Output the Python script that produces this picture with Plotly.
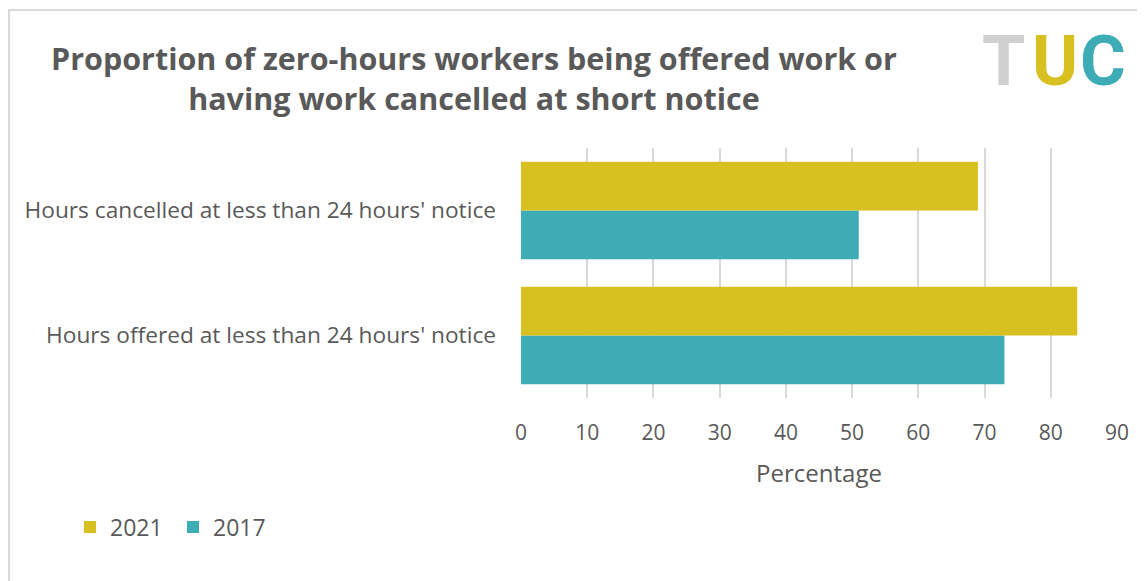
import plotly.graph_objects as go

categories = ["Hours offered at less than 24 hours' notice",
              "Hours cancelled at less than 24 hours' notice"]
series_2017 = [73, 51]
series_2021 = [84, 69]
tick_vals = [0, 10, 20, 30, 40, 50, 60, 70, 80, 90]

OFF = 8  # page body margin
W, H = 1145 - OFF, 581 - OFF
L, R, T, B = 521 - OFF, 28, 148 - OFF, 183
pw = W - L - R
ph = H - T - B

def px(x):  # page pixel -> paper coord
    return (x - OFF - L) / pw

def py(y):
    return (H - B - (y - OFF)) / ph

GOLD = "#d8c020"
TEAL = "#3eacb5"
TXT = "#595959"
FONT = "Open Sans"

fig = go.Figure()
fig.add_trace(go.Bar(y=categories, x=series_2017, name="2017", orientation="h",
                     marker=dict(color=TEAL, line=dict(width=0))))
fig.add_trace(go.Bar(y=categories, x=series_2021, name="2021", orientation="h",
                     marker=dict(color=GOLD, line=dict(width=0))))

fig.update_layout(
    width=W, height=H,
    margin=dict(l=L, r=R, t=T, b=B),
    paper_bgcolor="white", plot_bgcolor="white",
    barmode="group", bargap=0.22, bargroupgap=0,
    font=dict(family=FONT, color=TXT),
    showlegend=True,
    legend=dict(orientation="h", x=px(70), y=py(527), xanchor="left", yanchor="middle",
                traceorder="reversed", font=dict(size=23, color=TXT, family=FONT),
                itemwidth=30, entrywidth=58, bgcolor="rgba(0,0,0,0)"),
    xaxis=dict(range=[0, 90], tickvals=tick_vals, showgrid=True, gridcolor="#d9d9d9",
               gridwidth=2, zeroline=False, showline=False, ticks="",
               tickfont=dict(size=21, color=TXT, family=FONT), ticklabelstandoff=20,
               title=dict(text="Percentage", font=dict(size=24, color=TXT, family=FONT),
                          standoff=20)),
    yaxis=dict(showgrid=False, zeroline=False, showline=False, ticks="",
               tickfont=dict(size=22.7, color=TXT, family=FONT), ticklabelstandoff=24),
)

# Title
fig.add_annotation(text="<b>Proportion of zero-hours workers being offered work or<br>having work cancelled at short notice</b>",
                   xref="paper", yref="paper", x=px(474), y=py(78), xanchor="center", yanchor="middle",
                   showarrow=False, align="center",
                   font=dict(size=30.5, color=TXT, family=FONT))

# Logo (text)
logo = [("T", "#cfcfcf", 1003), ("U", GOLD, 1055), ("C", TEAL, 1103)]
for ch, col, cx in logo:
    fig.add_annotation(text="<b>" + ch + "</b>", xref="paper", yref="paper",
                       x=px(cx), y=py(61), xanchor="center", yanchor="middle",
                       showarrow=False, font=dict(size=70, color=col, family="Roboto"))

# Border
fig.add_shape(type="rect", xref="paper", yref="paper",
              x0=px(9), y0=py(H + 40), x1=px(1145 + 20), y1=py(10),
              line=dict(color="#d9d9d9", width=2), fillcolor="rgba(0,0,0,0)", layer="below")

fig.write_html("out.html")
